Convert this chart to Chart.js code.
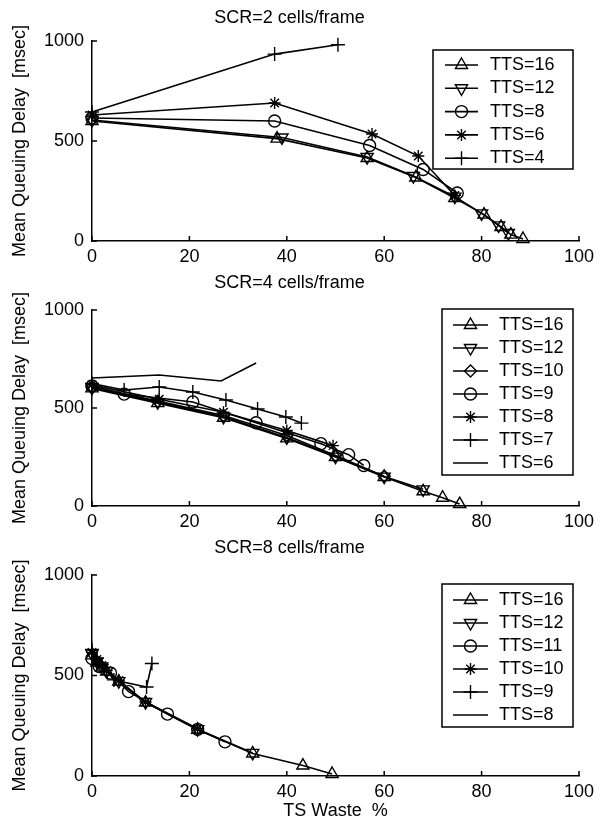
<!DOCTYPE html>
<html>
<head>
<meta charset="utf-8">
<script src="https://cdn.jsdelivr.net/npm/chart.js@4.4.1/dist/chart.umd.min.js"></script>
<style>
  body { margin: 0; background: #fff; }
  .panel { position: absolute; left: 0; width: 610px; }
</style>
</head>
<body>
<div class="panel" style="top:0;height:268px"><canvas id="scr2"></canvas></div>
<div class="panel" style="top:268px;height:267px"><canvas id="scr4"></canvas></div>
<div class="panel" style="top:535px;height:294px"><canvas id="scr8"></canvas></div>
<script>
const xTicks = [0, 20, 40, 60, 80, 100];
const yTicks = [0, 500, 1000];

// SCR=2 cells/frame  [TS waste %, delay msec]
const scr2Labels = ["TTS=16", "TTS=12", "TTS=8", "TTS=6", "TTS=4"];
const scr2Tts16 = [[0,600],[38,512],[56.5,415],[66.5,318],[74.5,215],[80.5,132],[84,70],[86,32],[88.5,10]];
const scr2Tts12 = [[0,605],[39,518],[56.5,420],[66,325],[74.5,222],[80,138],[83.5,78],[85.5,40]];
const scr2Tts8  = [[0,615],[37.5,600],[57,478],[68,358],[75,240]];
const scr2Tts6  = [[0,630],[37.5,690],[57.5,535],[67,425],[74.5,228]];
const scr2Tts4  = [[0,645],[37.5,935],[50.5,982]];

// SCR=4 cells/frame
const scr4Labels = ["TTS=16", "TTS=12", "TTS=10", "TTS=9", "TTS=8", "TTS=7", "TTS=6"];
const scr4Tts16 = [[0,600],[13.5,525],[27,450],[40,345],[50,250],[60,148],[68,75],[72,42],[75.5,10]];
const scr4Tts12 = [[0,603],[13.5,530],[27,455],[40,350],[50,252],[60,150],[68,85]];
const scr4Tts10 = [[0,608],[13.5,535],[27,462],[40,360],[50,258],[60,152]];
const scr4Tts9  = [[0,612],[6.6,571],[20.7,531],[33.7,425],[47,318],[52.7,262],[55.8,207]];
const scr4Tts8  = [[0,618],[13.8,545],[27,478],[40,385],[49.5,308]];
const scr4Tts7  = [[0,625],[6.6,592],[13.8,607],[20.7,582],[27.5,541],[34,495],[39.8,454],[43,423]];
const scr4Tts6  = [[0,653],[13.8,668],[26.5,638],[33.7,730]];

// SCR=8 cells/frame
const scr8Labels = ["TTS=16", "TTS=12", "TTS=11", "TTS=10", "TTS=9", "TTS=8"];
const scr8Tts16 = [[0,600],[1,565],[2,540],[3,520],[5.5,470],[11,365],[21.7,230],[33,112],[43.3,52],[49.3,10]];
const scr8Tts12 = [[0,608],[1,570],[2,545],[3,522],[5.5,472],[11,368],[21.7,233],[33,115]];
const scr8Tts11 = [[0,585],[1.5,545],[3.8,512],[7.5,420],[15.5,308],[21.7,232],[27.3,170]];
const scr8Tts10 = [[0,615],[1,580],[2,550],[3,525],[5.5,475],[11,368],[21.7,235]];
const scr8Tts9  = [[0,630],[1,585],[2,555],[4.5,478],[11.2,443],[12.3,560]];
const scr8Tts8  = [[0,640],[1,600],[2,570],[3.5,520]];

const FONT = 'Arial, "Liberation Sans", sans-serif';
Chart.defaults.font.family = FONT;
Chart.defaults.font.size = 18;
Chart.defaults.color = '#000';

const markers = {
  up:      { pointStyle: 'triangle', pointRotation: 0,   pointRadius: 7 },
  down:    { pointStyle: 'triangle', pointRotation: 180, pointRadius: 7 },
  circle:  { pointStyle: 'circle',   pointRotation: 0,   pointRadius: 6 },
  star:    { pointStyle: 'star',     pointRotation: 0,   pointRadius: 6 },
  plus:    { pointStyle: 'cross',    pointRotation: 0,   pointRadius: 7 },
  diamond: { pointStyle: 'rectRot',  pointRotation: 0,   pointRadius: 6 },
  none:    { pointStyle: false,      pointRotation: 0,   pointRadius: 0 }
};

function makeSet(label, pairs, marker) {
  return Object.assign({
    label: label,
    data: pairs.map(p => ({ x: p[0], y: p[1] })),
    showLine: true,
    borderColor: '#000',
    borderWidth: 1.6,
    pointBorderColor: '#000',
    pointBackgroundColor: 'rgba(0,0,0,0)',
    pointBorderWidth: 1.4,
    clip: false
  }, markers[marker]);
}

// matlab style ticks pointing into the plot
const inwardTicks = {
  id: 'inwardTicks',
  afterDraw(chart) {
    const { ctx, scales: { x, y } } = chart;
    ctx.save();
    ctx.strokeStyle = '#000';
    ctx.lineWidth = 1.5;
    ctx.beginPath();
    x.ticks.forEach(t => {
      const px = x.getPixelForValue(t.value);
      ctx.moveTo(px, y.bottom);
      ctx.lineTo(px, y.bottom - 5);
    });
    y.ticks.forEach(t => {
      const py = y.getPixelForValue(t.value);
      ctx.moveTo(x.left, py);
      ctx.lineTo(x.left + 5, py);
    });
    ctx.stroke();
    ctx.restore();
  }
};

const boxLegend = {
  id: 'boxLegend',
  afterDatasetsDraw(chart, args, opts) {
    const { ctx } = chart;
    ctx.save();
    ctx.fillStyle = '#fff';
    ctx.fillRect(opts.left, opts.top, opts.right - opts.left, opts.bottom - opts.top);
    ctx.strokeStyle = '#000';
    ctx.lineWidth = 1.5;
    ctx.strokeRect(opts.left, opts.top, opts.right - opts.left, opts.bottom - opts.top);
    ctx.font = '18px ' + FONT;
    ctx.textBaseline = 'middle';
    chart.data.datasets.forEach((ds, i) => {
      const yy = opts.firstRow + i * opts.rowHeight;
      ctx.lineWidth = 1.6;
      ctx.strokeStyle = '#000';
      ctx.beginPath();
      ctx.moveTo(opts.lineStart, yy);
      ctx.lineTo(opts.lineEnd, yy);
      ctx.stroke();
      if (ds.pointStyle && Chart.helpers && Chart.helpers.drawPoint) {
        ctx.fillStyle = 'rgba(0,0,0,0)';
        ctx.lineWidth = ds.pointBorderWidth;
        Chart.helpers.drawPoint(ctx, {
          pointStyle: ds.pointStyle,
          rotation: ds.pointRotation,
          radius: ds.pointRadius,
          borderWidth: ds.pointBorderWidth
        }, (opts.lineStart + opts.lineEnd) / 2, yy);
      }
      ctx.fillStyle = '#000';
      ctx.fillText(ds.label, opts.textX, yy);
    });
    ctx.restore();
  }
};

function makePanel(id, title, datasets, cfg) {
  return new Chart(document.getElementById(id), {
    type: 'scatter',
    data: { datasets: datasets },
    plugins: [inwardTicks, boxLegend],
    options: {
      responsive: true,
      maintainAspectRatio: false,
      animation: false,
      events: [],
      layout: { padding: { left: 0, right: 31, top: 0, bottom: 0 } },
      plugins: {
        legend: { display: false },
        tooltip: { enabled: false },
        title: {
          display: true,
          text: title,
          color: '#000',
          font: { size: 18, weight: 'normal' },
          padding: { top: cfg.titleTop, bottom: cfg.titleBottom }
        },
        boxLegend: cfg.legend
      },
      scales: {
        x: {
          type: 'linear',
          min: 0, max: 100,
          afterBuildTicks: s => { s.ticks = xTicks.map(v => ({ value: v })); },
          ticks: { padding: 5, maxRotation: 0, callback: v => String(v) },
          grid: { display: false, drawTicks: false },
          border: { display: true, color: '#000', width: 1.5 },
          title: {
            display: cfg.xTitle,
            text: 'TS Waste  %',
            font: { size: 18 },
            padding: { top: 4, bottom: 7 }
          },
          afterFit: s => { s.height = cfg.xHeight; }
        },
        y: {
          min: 0, max: 1000,
          afterBuildTicks: s => { s.ticks = yTicks.map(v => ({ value: v })); },
          ticks: { padding: 8, callback: v => String(v) },
          grid: { display: false, drawTicks: false },
          border: { display: true, color: '#000', width: 1.5 },
          title: {
            display: true,
            text: 'Mean Queuing Delay  [msec]',
            font: { size: 18 },
            padding: { top: 9, bottom: 0 }
          },
          afterFit: s => { s.width = 92; }
        }
      }
    }
  });
}

makePanel('scr2', 'SCR=2 cells/frame', [
  makeSet(scr2Labels[0], scr2Tts16, 'up'),
  makeSet(scr2Labels[1], scr2Tts12, 'down'),
  makeSet(scr2Labels[2], scr2Tts8, 'circle'),
  makeSet(scr2Labels[3], scr2Tts6, 'star'),
  makeSet(scr2Labels[4], scr2Tts4, 'plus')
], {
  titleTop: 7.5, titleBottom: 12, xHeight: 27, xTitle: false,
  legend: { left: 433, top: 50, right: 573, bottom: 169, firstRow: 65, rowHeight: 23.3,
            lineStart: 445, lineEnd: 478, textX: 490 }
});

makePanel('scr4', 'SCR=4 cells/frame', [
  makeSet(scr4Labels[0], scr4Tts16, 'up'),
  makeSet(scr4Labels[1], scr4Tts12, 'down'),
  makeSet(scr4Labels[2], scr4Tts10, 'diamond'),
  makeSet(scr4Labels[3], scr4Tts9, 'circle'),
  makeSet(scr4Labels[4], scr4Tts8, 'star'),
  makeSet(scr4Labels[5], scr4Tts7, 'plus'),
  makeSet(scr4Labels[6], scr4Tts6, 'none')
], {
  titleTop: 4.2, titleBottom: 16.2, xHeight: 29, xTitle: false,
  legend: { left: 442, top: 41, right: 573, bottom: 207, firstRow: 57, rowHeight: 23,
            lineStart: 453, lineEnd: 488, textX: 499 }
});

makePanel('scr8', 'SCR=8 cells/frame', [
  makeSet(scr8Labels[0], scr8Tts16, 'up'),
  makeSet(scr8Labels[1], scr8Tts12, 'down'),
  makeSet(scr8Labels[2], scr8Tts11, 'circle'),
  makeSet(scr8Labels[3], scr8Tts10, 'star'),
  makeSet(scr8Labels[4], scr8Tts9, 'plus'),
  makeSet(scr8Labels[5], scr8Tts8, 'none')
], {
  titleTop: 2.2, titleBottom: 16.2, xHeight: 53, xTitle: true,
  legend: { left: 442, top: 49, right: 573, bottom: 192, firstRow: 65, rowHeight: 23,
            lineStart: 453, lineEnd: 488, textX: 499 }
});
</script>
</body>
</html>
